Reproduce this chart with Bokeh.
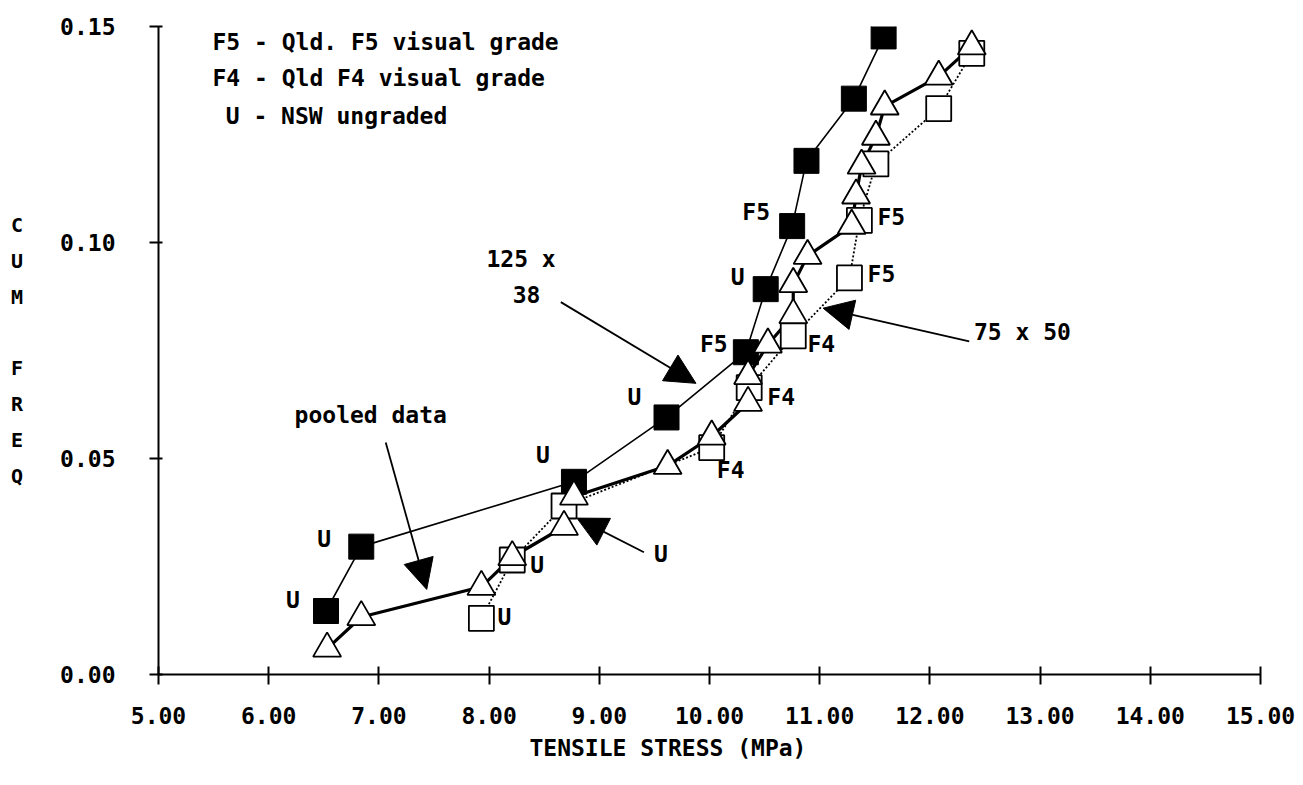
from bokeh.plotting import figure
from bokeh.models import FixedTicker, PrintfTickFormatter, Label, Arrow, NormalHead, ColumnDataSource
from bokeh.embed import file_html
from bokeh.resources import INLINE
from bokeh.core.properties import value

# ---------------- data ----------------
# 125 x 38 section (filled squares)
sq125_x = [6.52, 6.84, 8.77, 9.61, 10.33, 10.51, 10.75, 10.88, 11.31, 11.58]
sq125_y = [0.0147, 0.0296, 0.0446, 0.0595, 0.0746, 0.0892, 0.1038, 0.1189, 0.1333, 0.1477]
# 75 x 50 section (open squares)
sq75_x = [7.93, 8.21, 8.68, 10.02, 10.36, 10.76, 11.27, 11.36, 11.51, 12.08, 12.38]
sq75_y = [0.0130, 0.0265, 0.0390, 0.0525, 0.0664, 0.0784, 0.0918, 0.1051, 0.1182, 0.1310, 0.1438]
# pooled data (open triangles)
pool_x = [6.53, 6.84, 7.93, 8.21, 8.68, 8.77, 9.62, 10.02, 10.35, 10.35, 10.53,
          10.76, 10.76, 10.89, 11.29, 11.33, 11.38, 11.51, 11.59, 12.08, 12.38]
pool_y = [0.0060, 0.0133, 0.0203, 0.0272, 0.0342, 0.0412, 0.0483, 0.0551, 0.0629, 0.0691, 0.0764,
          0.0832, 0.0904, 0.0969, 0.1039, 0.1109, 0.1178, 0.1245, 0.1315, 0.1384, 0.1454]

# grade labels attached to points
sq125_lab_idx = [0, 1, 2, 3, 4, 5, 6]
sq125_lab_txt = ["U", "U", "U", "U", "F5", "U", "F5"]
sq75_lab_idx = [0, 1, 3, 4, 5, 6, 7]
sq75_lab_txt = ["U", "U", "F4", "F4", "F4", "F5", "F5"]

x_ticks = [5, 6, 7, 8, 9, 10, 11, 12, 13, 14, 15]
y_ticks = [0.0, 0.05, 0.10, 0.15]

legend_lines = ["F5 - Qld. F5 visual grade", "F4 - Qld F4 visual grade", "U - NSW ungraded"]
x_title = "TENSILE STRESS (MPa)"
y_title = "C\nU\nM\n\nF\nR\nE\nQ"

# ---------------- styling / layout ----------------
FONT = "DejaVu Sans Mono"
FS = "23px"

p = figure(width=1303, height=785, x_range=(5, 15), y_range=(0, 0.15),
           output_backend="svg", toolbar_location=None,
           min_border_left=158, min_border_right=43, min_border_top=26, min_border_bottom=111)
p.outline_line_color = None
p.xgrid.visible = False
p.ygrid.visible = False
p.background_fill_color = "white"
p.border_fill_color = "white"

for ax in (p.xaxis[0], p.yaxis[0]):
    ax.formatter = PrintfTickFormatter(format="%.2f")
    ax.minor_tick_line_color = None
    ax.axis_line_width = 2
    ax.major_tick_line_width = 2
    ax.major_label_text_font = FONT
    ax.major_label_text_font_style = "bold"
    ax.major_label_text_font_size = FS
    ax.major_label_text_color = "black"
    ax.axis_line_color = "black"
    ax.major_tick_line_color = "black"
    ax.axis_label_text_font = FONT
    ax.axis_label_text_font_style = "bold"
    ax.axis_label_text_color = "black"

p.xaxis.ticker = FixedTicker(ticks=x_ticks)
p.yaxis.ticker = FixedTicker(ticks=y_ticks)
p.xaxis.major_tick_in = 8
p.xaxis.major_tick_out = 10
p.xaxis.major_label_standoff = 22
p.yaxis.major_tick_in = 4
p.yaxis.major_tick_out = 9
p.yaxis.major_label_standoff = 34

# x title: trailing no-break spaces shift its centre left as in the reference
p.xaxis.axis_label = x_title + "\u00a0" * 6
p.xaxis.axis_label_text_font_size = FS
p.xaxis.axis_label_standoff = 8

p.yaxis.axis_label = y_title
p.yaxis.axis_label_orientation = "horizontal"
p.yaxis.axis_label_text_font_size = "20px"
p.yaxis.axis_label_text_line_height = 1.49
p.yaxis.axis_label_standoff = 34

# ---------------- lines ----------------
p.line(sq125_x, sq125_y, line_color="black", line_width=1.6)
p.line(sq75_x, sq75_y, line_color="black", line_width=1.8, line_dash="2 2")
p.line(pool_x, pool_y, line_color="black", line_width=3.2)

# ---------------- markers ----------------
p.scatter(sq125_x, sq125_y, marker="square", size=25, fill_color="black", line_color="black")
p.scatter(sq75_x, sq75_y, marker="square", size=25, fill_color="white", line_color="black", line_width=1.8)
p.scatter(pool_x, pool_y, marker="triangle", size=28, fill_color="white", line_color="black", line_width=1.8)

# ---------------- point labels ----------------
lab_x = [sq125_x[i] for i in sq125_lab_idx] + [sq75_x[i] for i in sq75_lab_idx]
lab_y = [sq125_y[i] for i in sq125_lab_idx] + [sq75_y[i] for i in sq75_lab_idx]
lab_t = sq125_lab_txt + sq75_lab_txt
lab_dx = [-33, -37, -31, -32, -32, -28, -36] + [23, 25, 19, 32, 28, 32, 32]
lab_dy = [-11, -8, -27, -20, -8, -12, -14] + [-1, 5, 22, 9, 8, -4, -3]
src = ColumnDataSource(dict(x=lab_x, y=lab_y, t=lab_t, dx=lab_dx, dy=lab_dy))
p.text(x="x", y="y", text="t", x_offset="dx", y_offset="dy", source=src,
       text_font=value(FONT), text_font_style="bold", text_font_size=FS,
       text_align="center", text_baseline="middle", text_color="black")

# ---------------- annotations ----------------
def lab(x, y, t, align="left"):
    p.add_layout(Label(x=x, y=y, text=t, text_font=FONT, text_font_style="bold",
                       text_font_size=FS, text_align=align, text_baseline="middle",
                       text_color="black"))

lab(5.49, 0.1465, legend_lines[0])
lab(5.49, 0.1380, legend_lines[1])
lab(5.61, 0.1292, legend_lines[2])
lab(8.29, 0.0962, "125 x", "center")
lab(8.34, 0.0880, "38", "center")
lab(12.40, 0.0792, "75 x 50")
lab(6.235, 0.0600, "pooled data")
lab(9.56, 0.0280, "U", "center")

def arrow(x0, y0, x1, y1):
    p.add_layout(Arrow(x_start=x0, y_start=y0, x_end=x1, y_end=y1, line_width=1.8,
                       line_color="black",
                       end=NormalHead(size=30, fill_color="black", line_color="black")))

arrow(8.651, 0.0862, 9.877, 0.0674)
arrow(12.357, 0.0771, 11.031, 0.0848)
arrow(7.062, 0.0537, 7.434, 0.0197)
arrow(9.405, 0.0283, 8.797, 0.0362)

open("out.html", "w").write(file_html(p, INLINE))
